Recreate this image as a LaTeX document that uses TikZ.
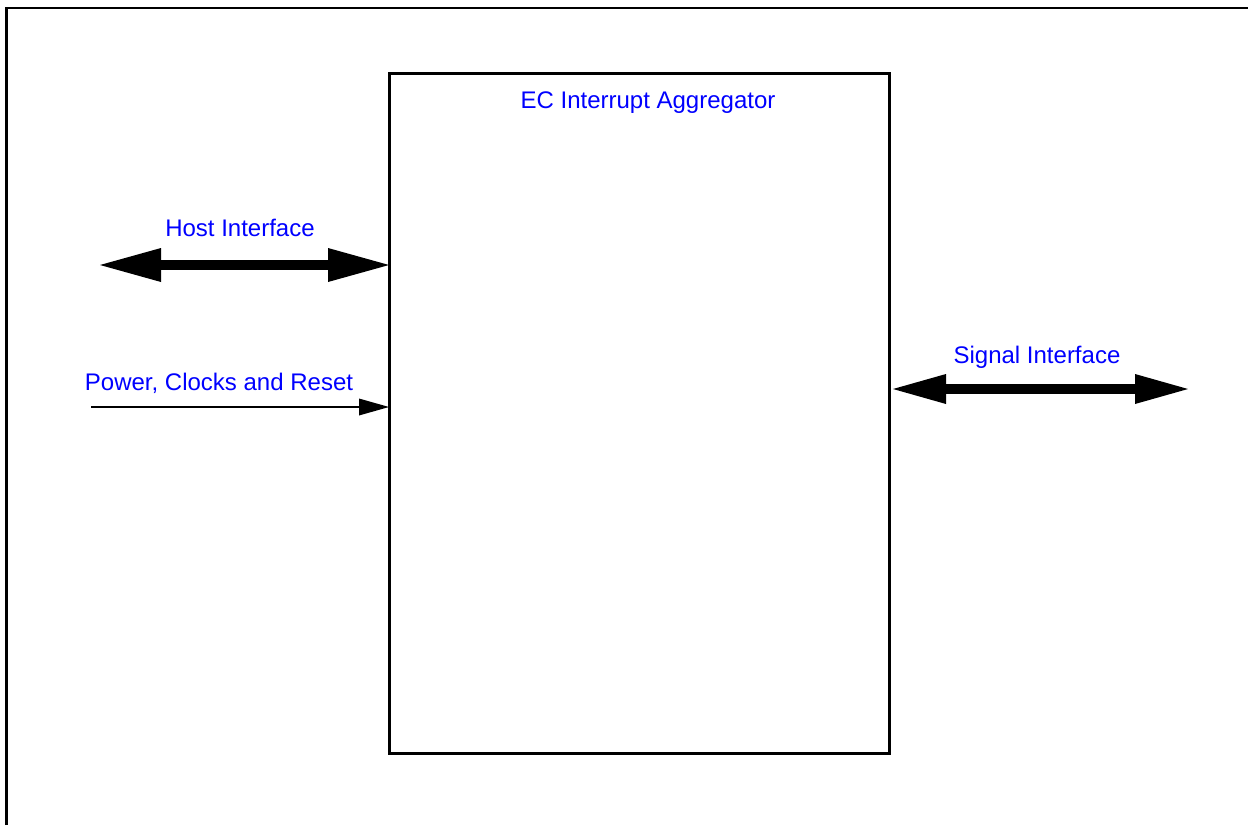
\documentclass[tikz,border=0pt]{standalone}
\usepackage{fontspec}
\setmainfont{Liberation Sans}
\usetikzlibrary{arrows.meta}
\definecolor{lblue}{RGB}{0,0,255}
\tikzset{
  lbl/.style={text=lblue, font=\fontsize{12pt}{14pt}\selectfont, inner sep=0pt, anchor=base},
  busarrow/.style={line width=5pt, {Triangle[length=30.5pt,width=17pt,line width=0pt]}-{Triangle[length=30.5pt,width=17pt,line width=0pt]}},
  sigarrow/.style={line width=5pt, {Triangle[length=26.5pt,width=15pt,line width=0pt]}-{Triangle[length=26.5pt,width=15pt,line width=0pt]}},
  thinarrow/.style={line width=0.75pt, -{Triangle[length=15pt,width=8.5pt,line width=0pt]}},
  block/.style={draw, line width=1.5pt, minimum width=250pt, minimum height=340pt, inner sep=0pt, outer sep=0pt}
}
\begin{document}
\begin{tikzpicture}[x=0.5pt,y=-0.5pt]
\useasboundingbox (0,0) rectangle (1248,825);
\draw[line width=1.3pt] (6.2,825) -- (6.2,7.8) -- (1248,7.8);
\node[block] (agg) at (639,413) {};
\node[lbl] (title) at (648,108) {EC Interrupt Aggregator};
% Host interface
\coordinate (hl) at (100,265);
\draw[busarrow] (hl) -- (hl -| agg.west);
\node[lbl] (host) at (240,236) {Host Interface};
% Power
\coordinate (pl) at (91,407);
\draw[thinarrow] (pl) -- (pl -| agg.west);
\node[lbl] (pwr) at (219,390) {Power, Clocks and Reset};
% Signal interface
\coordinate (sr) at (1188,389);
\draw[sigarrow] (sr -| agg.east) ++(4,0) coordinate (sl) (sl) -- (sr);
\node[lbl] (sig) at (1037,363) {Signal Interface};
\end{tikzpicture}
\end{document}
